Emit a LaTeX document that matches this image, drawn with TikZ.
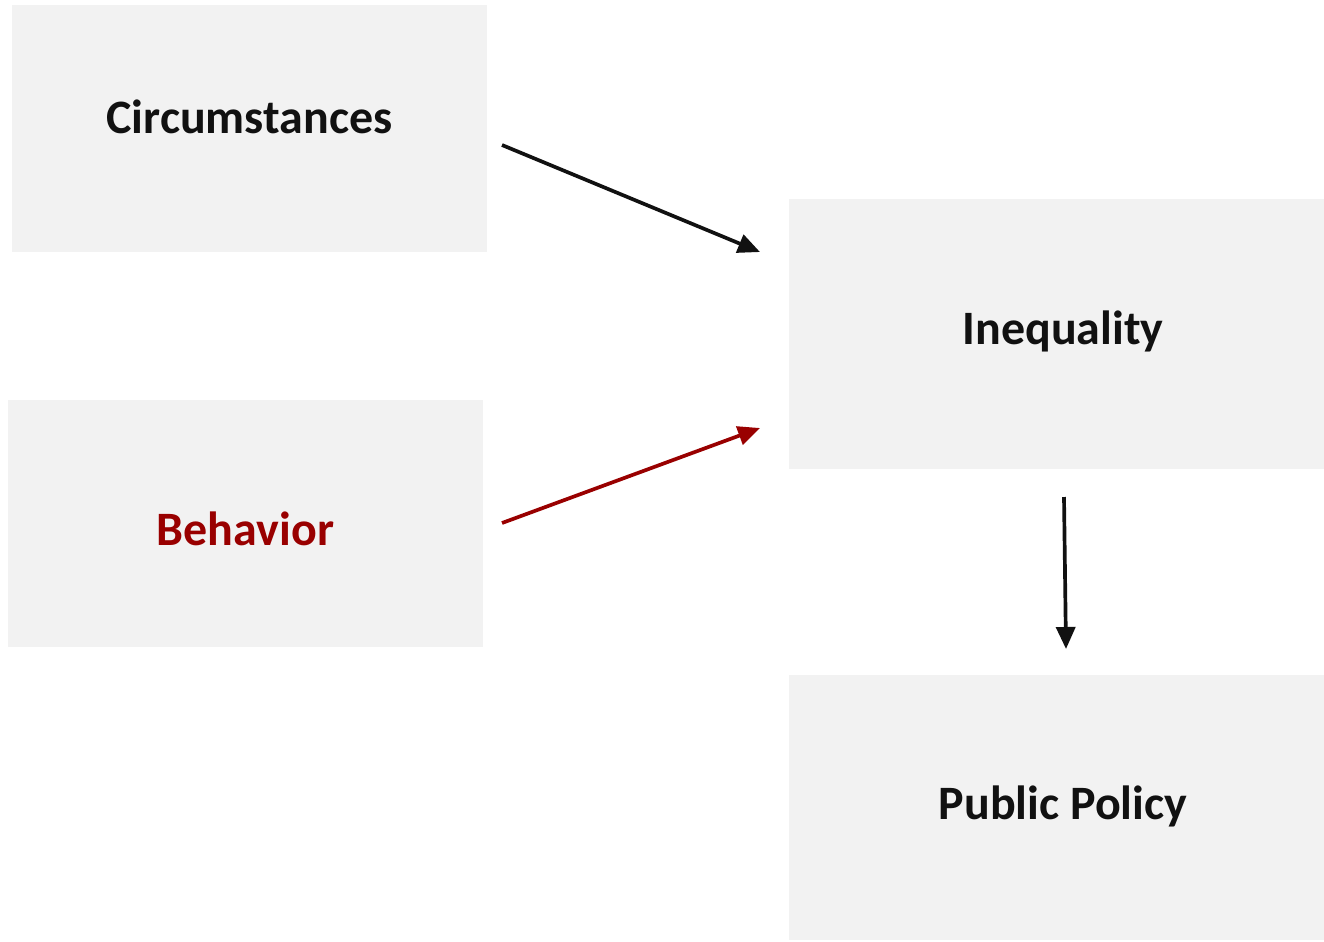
\documentclass[tikz,border=0pt]{standalone}
\usepackage{fontspec}
\setmainfont{Carlito}
\usetikzlibrary{arrows.meta}
\definecolor{boxgray}{HTML}{F2F2F2}
\definecolor{darkred}{HTML}{990000}
\definecolor{ink}{HTML}{111111}
\tikzset{
	box/.style={fill=boxgray, draw=none, inner sep=0pt},
	lbl/.style={anchor=base, font=\fontsize{27.3}{32}\selectfont\bfseries, text=ink},
	link/.style={line width=2.1pt, -{Triangle[length=0.44cm,width=0.38cm]}}
}
\begin{document}
\begin{tikzpicture}[x=0.02cm,y=-0.02cm]
	\useasboundingbox (0,0) rectangle (1324,941);

	% boxes
	\node[box, minimum width=9.5cm, minimum height=4.94cm] (circ) at (249.5,128.5) {};
	\node[box, minimum width=9.5cm, minimum height=4.94cm] (behav) at (245.5,523.5) {};
	\node[box, minimum width=10.7cm, minimum height=5.4cm] (ineq) at (1056.5,334) {};
	\node[box, minimum width=10.7cm, minimum height=5.3cm] (policy) at (1056.5,807.5) {};

	% labels
	\node[lbl] (circtext) at (249.5,133) {Circumstances};
	\node[lbl, text=darkred] (behavtext) at (245.5,545) {Behavior};
	\node[lbl] (ineqtext) at (1063,344) {Inequality};
	\node[lbl] (policytext) at (1063,819) {Public Policy};

	% arrow ends
	\coordinate (c1) at (502,145);
	\coordinate (c2) at (760,252);
	\coordinate (b1) at (502,523);
	\coordinate (b2) at (760,428);
	\coordinate (i1) at (1064,497);
	\coordinate (i2) at (1066,649);

	% arrows
	\draw[link, ink] (c1) -- (c2);
	\draw[link, darkred] (b1) -- (b2);
	\draw[link, ink] (i1) -- (i2);
\end{tikzpicture}
\end{document}
